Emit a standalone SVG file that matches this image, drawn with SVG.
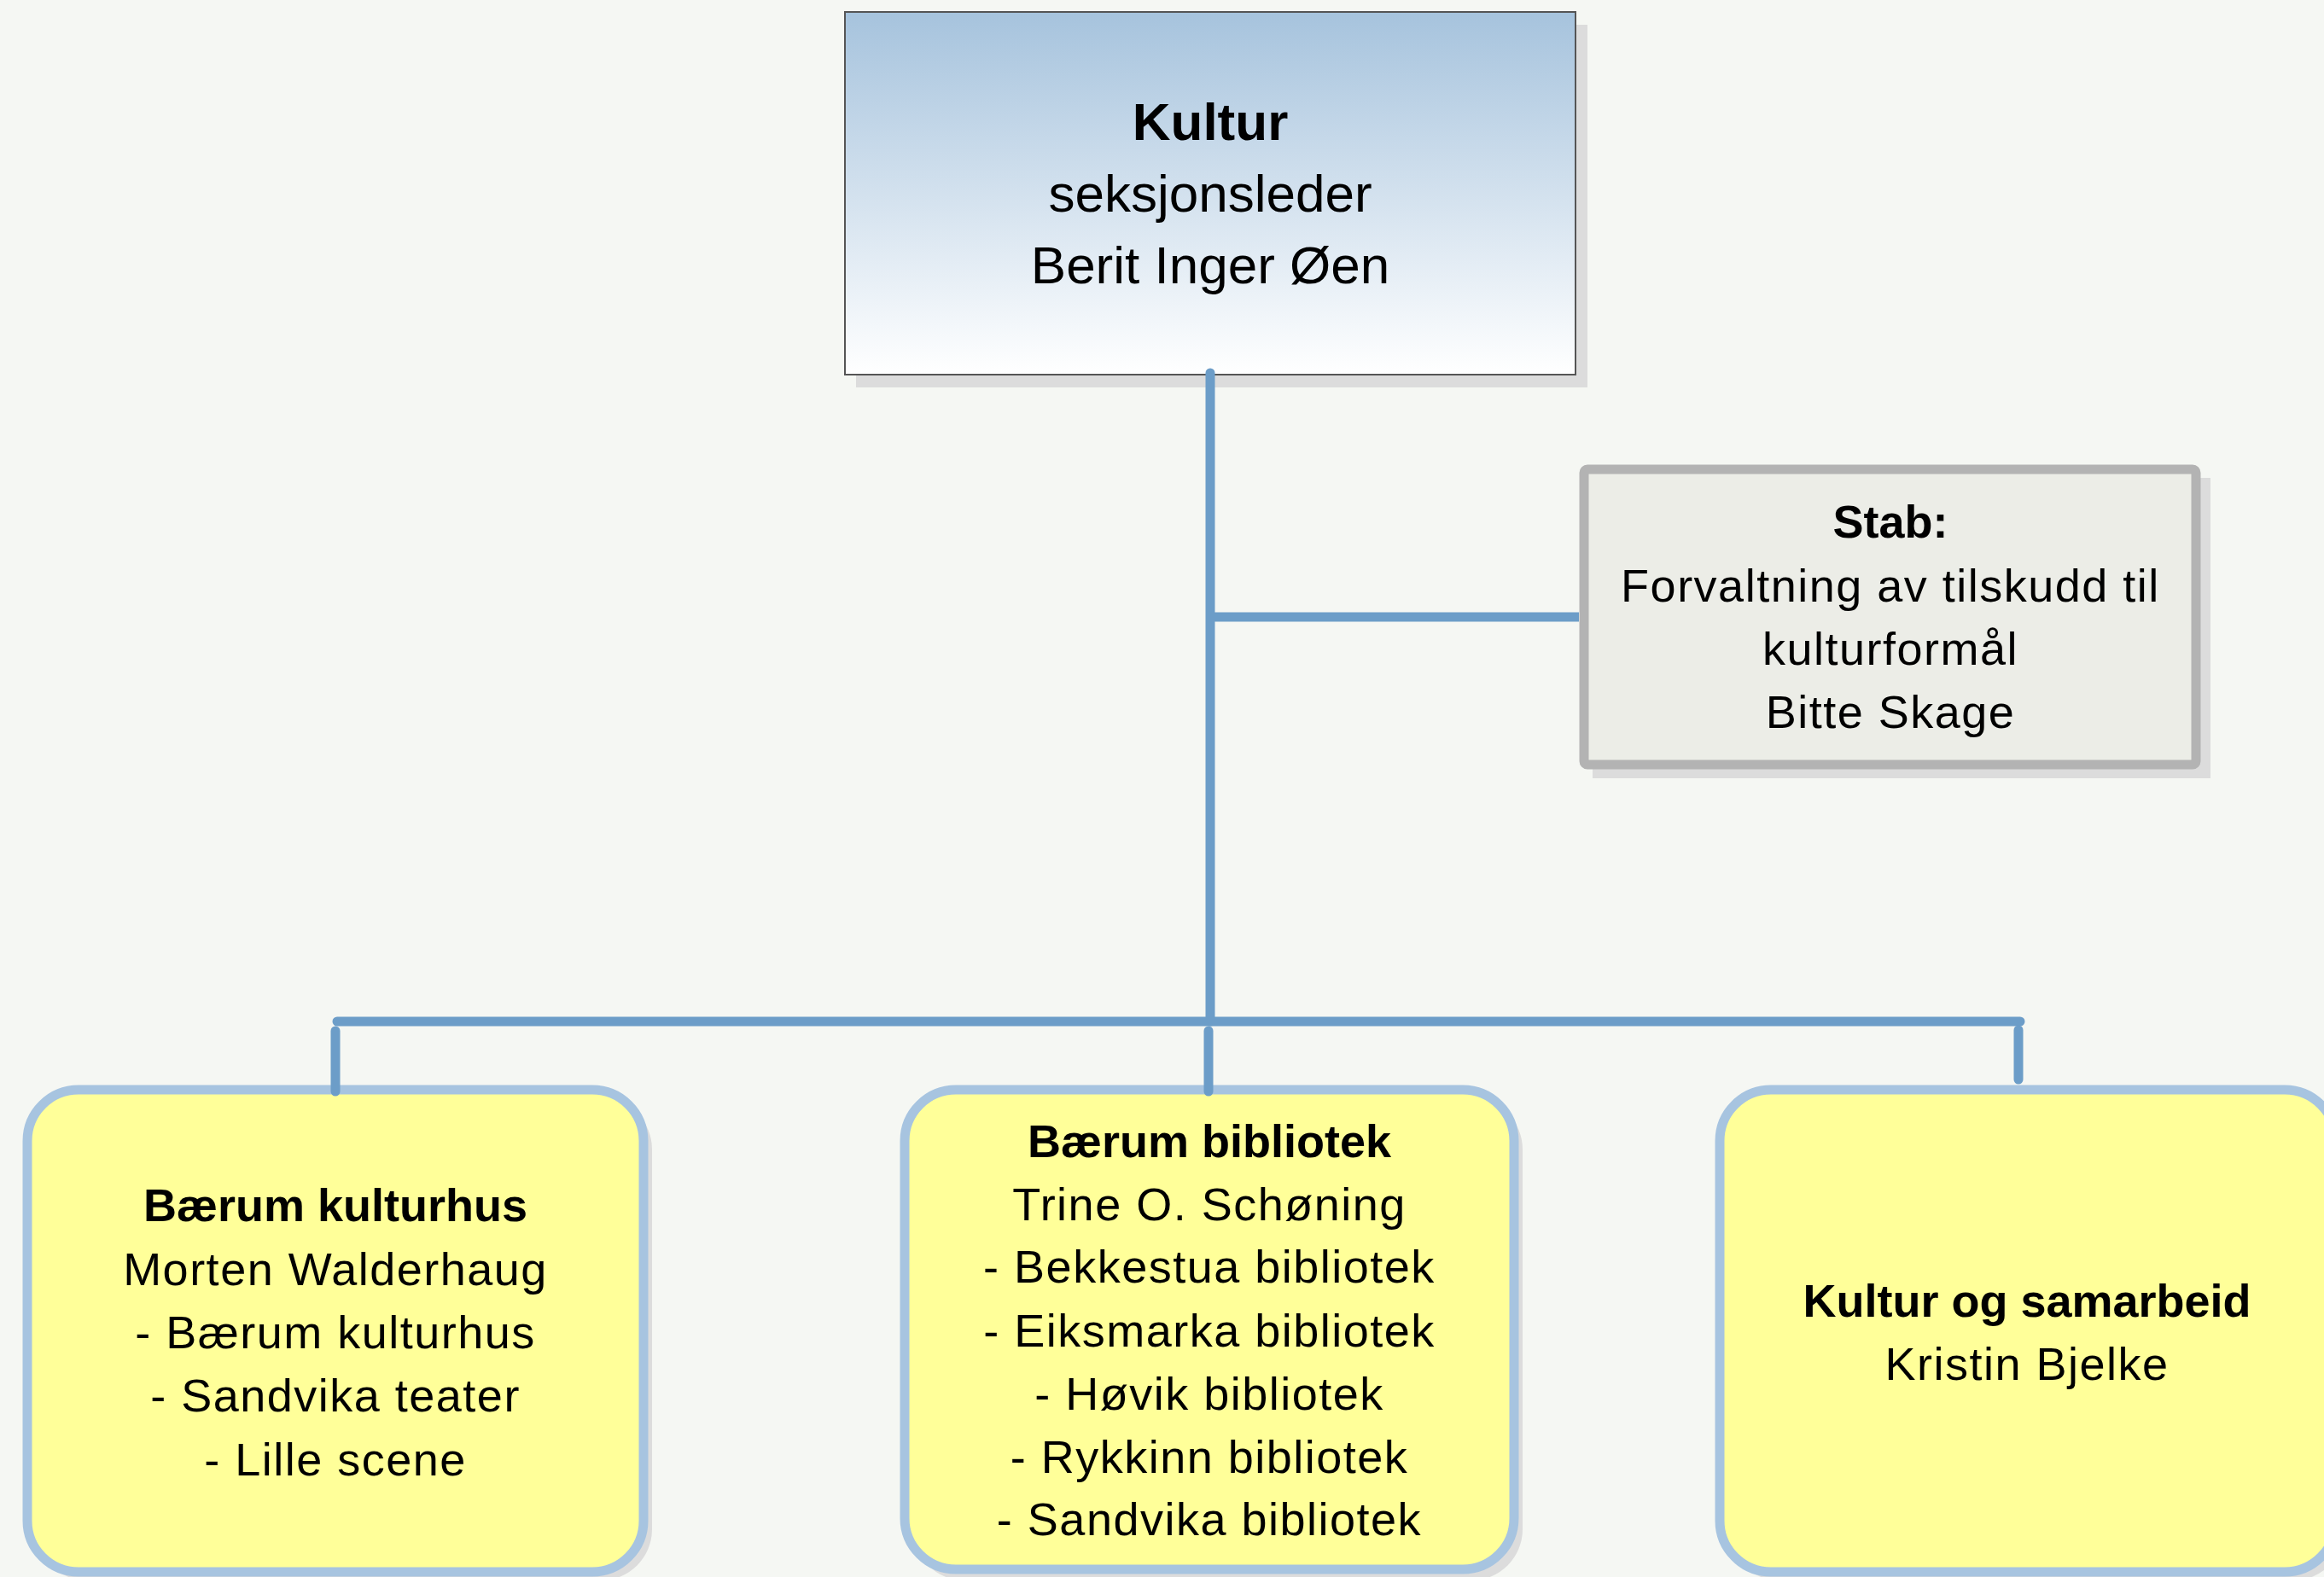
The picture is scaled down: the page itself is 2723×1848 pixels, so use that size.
<svg xmlns="http://www.w3.org/2000/svg" width="2723" height="1848" viewBox="0 0 2723 1848">
<defs>
<linearGradient id="topgrad" x1="0" y1="0" x2="0" y2="1">
<stop offset="0" stop-color="#a6c3dd"/>
<stop offset="1" stop-color="#ffffff"/>
</linearGradient>
<style>
.t{font-family:"Liberation Sans",Arial,sans-serif;fill:#000;text-anchor:middle}
.b{font-weight:bold}
.top{font-size:62px}
.body{font-size:54px;letter-spacing:1.5px}
.bold{font-size:54px;font-weight:bold}
.conn{stroke:#6c9dc8;stroke-width:11;stroke-linecap:round;fill:none}
.shadow{fill:#dcdcdc}
.unit{fill:#ffff99;stroke:#a7c4e0;stroke-width:11}
</style>
</defs>
<rect x="0" y="0" width="2723" height="1848" fill="#f5f7f3"/>
<g id="node-kultur">
<rect class="shadow" x="1003" y="29" width="857" height="425"/>
<rect x="990" y="14" width="856" height="425" fill="url(#topgrad)" stroke="#555" stroke-width="2"/>
<text class="t b top" x="1418" y="164">Kultur</text>
<text class="t top" x="1418" y="248">seksjonsleder</text>
<text class="t top" x="1418" y="332">Berit Inger Øen</text>
</g>
<g id="node-stab">
<rect class="shadow" x="1866" y="560" width="724" height="352"/>
<rect x="1856" y="550" width="717" height="346" rx="4" fill="#ecede7" stroke="#b3b3b3" stroke-width="11"/>
<text class="t bold" x="2215" y="630">Stab:</text>
<text class="t body" x="2215" y="705">Forvaltning av tilskudd til</text>
<text class="t body" x="2215" y="779">kulturformål</text>
<text class="t body" x="2215" y="853">Bitte Skage</text>
</g>
<g id="node-kulturhus">
<rect class="shadow" x="42" y="1287" width="722" height="565" rx="60"/>
<rect class="unit" x="32" y="1277" width="722" height="565" rx="60"/>
<text class="t bold" x="393" y="1431">Bærum kulturhus</text>
<text class="t body" x="393" y="1506">Morten Walderhaug</text>
<text class="t body" x="393" y="1580">- Bærum kulturhus</text>
<text class="t body" x="393" y="1654">- Sandvika teater</text>
<text class="t body" x="393" y="1729">- Lille scene</text>
</g>
<g id="node-bibliotek">
<rect class="shadow" x="1070" y="1287" width="714" height="565" rx="60"/>
<rect class="unit" x="1060" y="1277" width="714" height="562" rx="60"/>
<text class="t bold" x="1417" y="1356">Bærum bibliotek</text>
<text class="t body" x="1417" y="1430">Trine O. Schøning</text>
<text class="t body" x="1417" y="1503">- Bekkestua bibliotek</text>
<text class="t body" x="1417" y="1578">- Eiksmarka bibliotek</text>
<text class="t body" x="1417" y="1652">- Høvik bibliotek</text>
<text class="t body" x="1417" y="1726">- Rykkinn bibliotek</text>
<text class="t body" x="1417" y="1799">- Sandvika bibliotek</text>
</g>
<g id="node-samarbeid">
<rect class="shadow" x="2025" y="1287" width="722" height="565" rx="60"/>
<rect class="unit" x="2015" y="1277" width="722" height="565" rx="60"/>
<text class="t bold" x="2375" y="1543">Kultur og samarbeid</text>
<text class="t body" x="2375" y="1617">Kristin Bjelke</text>
</g>
<g id="connectors">
<line class="conn" x1="1418" y1="437" x2="1418" y2="1197"/>
<line class="conn" x1="1418" y1="723" x2="1850" y2="723" style="stroke-linecap:butt"/>
<line class="conn" x1="395" y1="1197" x2="2367" y2="1197"/>
<line class="conn" x1="393" y1="1208" x2="393" y2="1279"/>
<line class="conn" x1="1416" y1="1208" x2="1416" y2="1279"/>
<line class="conn" x1="2365" y1="1207" x2="2365" y2="1265"/>
</g>
</svg>
